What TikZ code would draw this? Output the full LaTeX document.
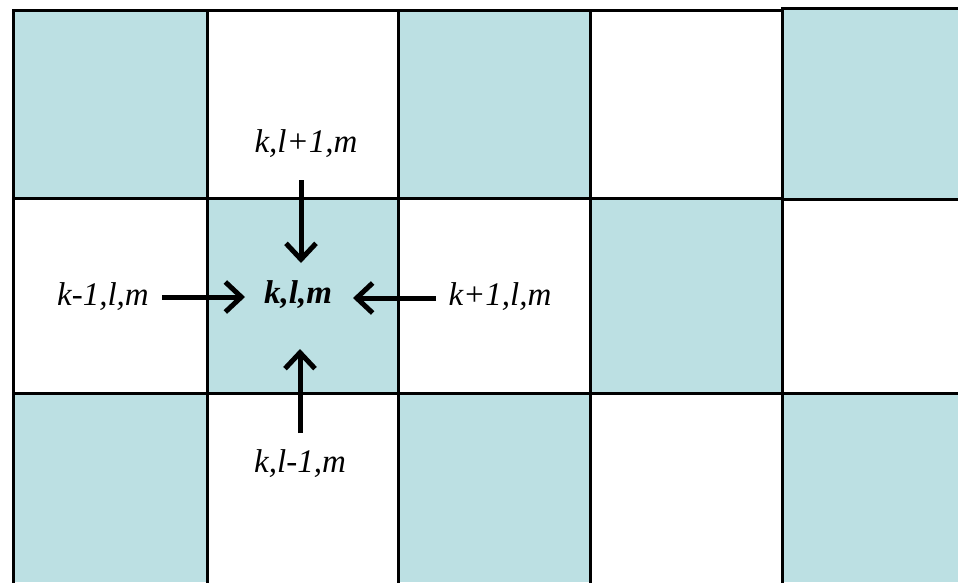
\documentclass[tikz,border=0pt]{standalone}
\usepackage{fontspec}
\setmainfont{Liberation Serif}
\usetikzlibrary{arrows.meta}
\definecolor{cellteal}{HTML}{BCE0E3}
\tikzset{
  gridline/.style={line width=3pt, line cap=rect},
  cell/.style={fill=cellteal},
  lbl/.style={font=\fontsize{33}{36}\selectfont\itshape, inner sep=0pt, anchor=base},
  arr/.style={line width=5pt, -{Straight Barb[length=16pt,width=30pt,line width=5pt]}}
}
\begin{document}
\begin{tikzpicture}[x=1pt,y=-1pt]
\useasboundingbox (0,0) rectangle (958,582);
\fill[white] (0,0) rectangle (958,582);
% teal cells
\fill[cell] (13,10.5) rectangle (207,198);
\fill[cell] (398,10.5) rectangle (590,198);
\fill[cell] (782,8) rectangle (958,199);
\fill[cell] (207,198) rectangle (398,393);
\fill[cell] (590,198) rectangle (782,393);
\fill[cell] (13,393) rectangle (207,582);
\fill[cell] (398,393) rectangle (590,582);
\fill[cell] (782,393) rectangle (958,582);
% grid lines
\draw[gridline] (13,10.5) -- (782,10.5);
\draw[gridline] (782,8) -- (958,8);
\draw[gridline] (13,198) -- (782,198);
\draw[gridline] (782,199.5) -- (958,199.5);
\draw[gridline] (13,393) -- (958,393);
\foreach \x in {13,207,398,590}{\draw[gridline] (\x,10.5) -- (\x,584);}
\draw[gridline] (782,8) -- (782,584);
% labels
\node[lbl] (top) at (306,152) {k,l+1,m};
\node[lbl] (ctr) at (298,303) {\bfseries k,l,m};
\node[lbl] (lft) at (103,305) {k-1,l,m};
\node[lbl] (rgt) at (500,305) {k+1,l,m};
\node[lbl] (bot) at (300,472) {k,l-1,m};
% arrow end points
\coordinate (tS) at (301,180); \coordinate (tE) at (301,263);
\coordinate (bS) at (300,433); \coordinate (bE) at (300,349);
\coordinate (rS) at (436,298); \coordinate (rE) at (353,298);
\coordinate (lS) at (162,297); \coordinate (lE) at (245,297);
\draw[arr] (tS) -- (tE);
\draw[arr] (bS) -- (bE);
\draw[arr] (rS) -- (rE);
\draw[arr] (lS) -- (lE);
\end{tikzpicture}
\end{document}
